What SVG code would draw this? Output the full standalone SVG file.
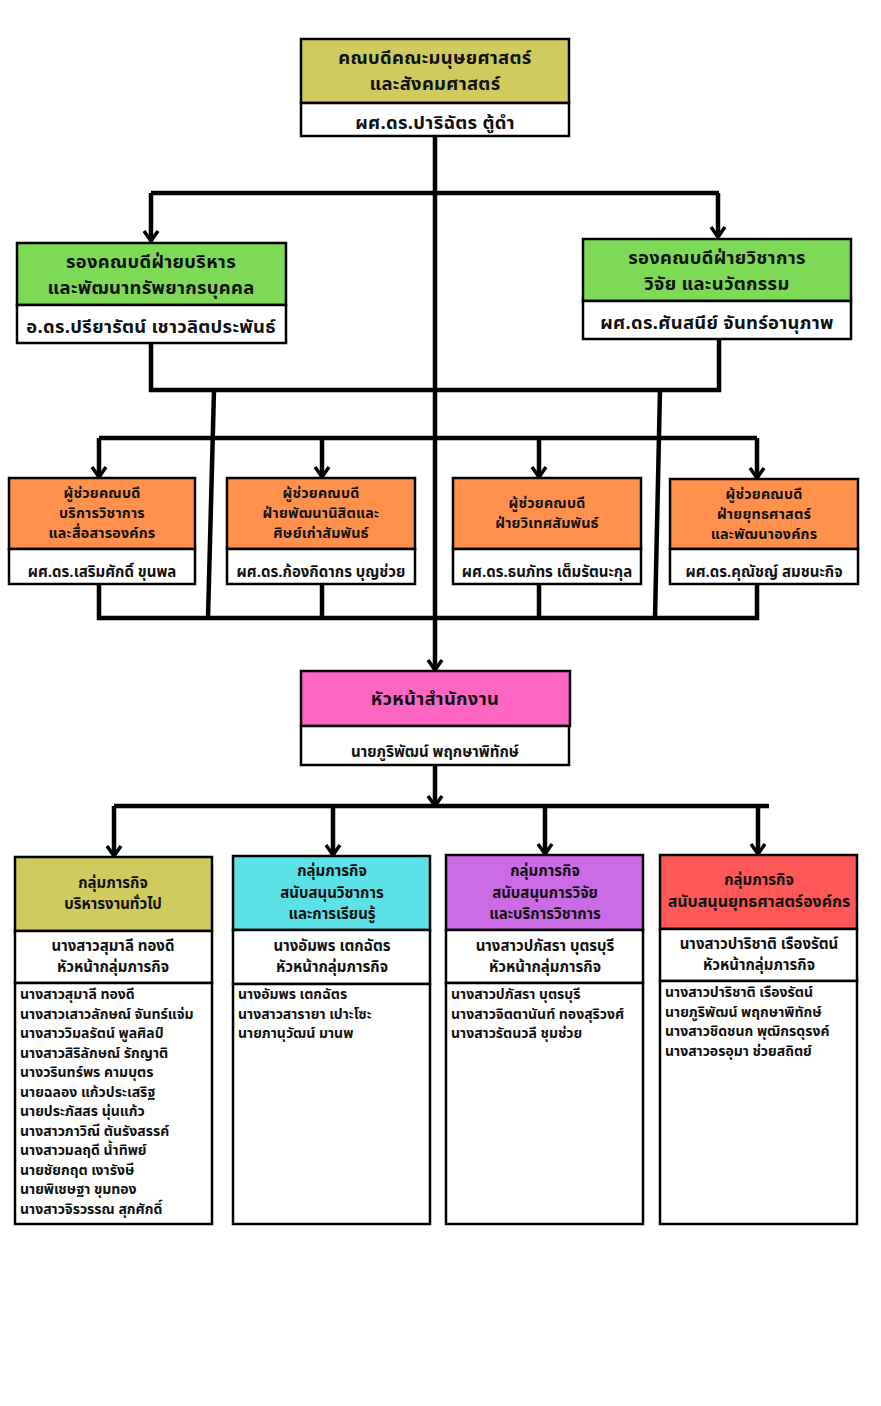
<svg xmlns="http://www.w3.org/2000/svg" width="881" height="1406" viewBox="0 0 881 1406">
<style>
.bx{stroke:#000;stroke-width:2.5}
.w{fill:#fff}
.olive{fill:#CFCB5E}
.green{fill:#7ED957}
.orange{fill:#FF914D}
.pink{fill:#FF66C4}
.cyan{fill:#5CE1E6}
.purple{fill:#CB6CE6}
.red{fill:#FF5757}
text{font-family:"Noto Sans Thai","Noto Sans",sans-serif;font-weight:700;fill:#111}
.t1{font-size:18.4px;text-anchor:middle;letter-spacing:0.3px}
.t2{font-size:15px;text-anchor:middle}
.ta{font-size:14.3px;text-anchor:middle;letter-spacing:0.2px}
.t3{font-size:14px}
.cn{fill:none;stroke:#000;stroke-width:4.5}
.ar{marker-end:url(#ah)}
</style>
<defs>
<marker id="ah" viewBox="-2 -9 14 18" refX="10" refY="0" markerWidth="14" markerHeight="18" markerUnits="userSpaceOnUse" orient="auto">
<path d="M0,-7 L10,0 L0,7" fill="none" stroke="#000" stroke-width="3.5"/>
</marker>
</defs>
<rect width="881" height="1406" fill="#fff"/>

<g id="connectors">
<path class="cn" d="M435,136 V618"/>
<path class="cn ar" d="M435,618 V670"/>
<path class="cn" d="M151,193 H719"/>
<path class="cn ar" d="M151,193 V241"/>
<path class="cn ar" d="M718,193 V237"/>
<path class="cn" d="M151,343 V390 H719 V339"/>
<path class="cn" d="M214,390 L208,618"/>
<path class="cn" d="M660,390 L655,618"/>
<path class="cn" d="M99,438 H757"/>
<path class="cn ar" d="M99,438 V477"/>
<path class="cn ar" d="M322,438 V477"/>
<path class="cn ar" d="M539,438 V477"/>
<path class="cn ar" d="M757,438 V478"/>
<path class="cn" d="M99,584 V618 H757 V585"/>
<path class="cn" d="M322,584 V618"/>
<path class="cn" d="M539,584 V618"/>
<path class="cn ar" d="M435,765 V806"/>
<path class="cn" d="M114,806 H769"/>
<path class="cn ar" d="M114,806 V856"/>
<path class="cn ar" d="M333,806 V855"/>
<path class="cn ar" d="M545,806 V854"/>
<path class="cn ar" d="M758,806 V854"/>
</g>

<g id="dean">
<rect class="bx olive" x="301" y="39" width="268" height="64"/>
<rect class="bx w" x="301" y="103" width="268" height="33"/>
<text class="t1" x="435" y="64">คณบดีคณะมนุษยศาสตร์</text>
<text class="t1" x="435" y="90">และสังคมศาสตร์</text>
<text class="t1" x="435" y="129">ผศ.ดร.ปาริฉัตร ตู้ดำ</text>
</g>

<g id="vp-admin">
<rect class="bx green" x="17" y="243" width="269" height="62"/>
<rect class="bx w" x="17" y="305" width="269" height="38"/>
<text class="t1" x="151" y="268">รองคณบดีฝ่ายบริหาร</text>
<text class="t1" x="151" y="294">และพัฒนาทรัพยากรบุคคล</text>
<text class="t1" x="151" y="333">อ.ดร.ปรียารัตน์ เชาวลิตประพันธ์</text>
</g>

<g id="vp-academic">
<rect class="bx green" x="583" y="239" width="268" height="62"/>
<rect class="bx w" x="583" y="301" width="268" height="38"/>
<text class="t1" x="717" y="264">รองคณบดีฝ่ายวิชาการ</text>
<text class="t1" x="717" y="290">วิจัย และนวัตกรรม</text>
<text class="t1" x="717" y="329">ผศ.ดร.ศันสนีย์ จันทร์อานุภาพ</text>
</g>

<g id="asst-1">
<rect class="bx orange" x="9" y="478" width="186" height="71"/>
<rect class="bx w" x="9" y="549" width="186" height="35"/>
<text class="ta" x="102" y="498">ผู้ช่วยคณบดี</text>
<text class="ta" x="102" y="518">บริการวิชาการ</text>
<text class="ta" x="102" y="538">และสื่อสารองค์กร</text>
<text class="t2" x="102" y="577">ผศ.ดร.เสริมศักดิ์ ขุนพล</text>
</g>

<g id="asst-2">
<rect class="bx orange" x="227" y="478" width="188" height="71"/>
<rect class="bx w" x="227" y="549" width="188" height="35"/>
<text class="ta" x="321" y="498">ผู้ช่วยคณบดี</text>
<text class="ta" x="321" y="518">ฝ่ายพัฒนานิสิตและ</text>
<text class="ta" x="321" y="538">ศิษย์เก่าสัมพันธ์</text>
<text class="t2" x="321" y="577">ผศ.ดร.ก้องกิดากร บุญช่วย</text>
</g>

<g id="asst-3">
<rect class="bx orange" x="453" y="478" width="188" height="71"/>
<rect class="bx w" x="453" y="549" width="188" height="35"/>
<text class="ta" x="547" y="508">ผู้ช่วยคณบดี</text>
<text class="ta" x="547" y="528">ฝ่ายวิเทศสัมพันธ์</text>
<text class="t2" x="547" y="577">ผศ.ดร.ธนภัทร เต็มรัตนะกุล</text>
</g>

<g id="asst-4">
<rect class="bx orange" x="670" y="479" width="188" height="70"/>
<rect class="bx w" x="670" y="549" width="188" height="35"/>
<text class="ta" x="764" y="499">ผู้ช่วยคณบดี</text>
<text class="ta" x="764" y="519">ฝ่ายยุทธศาสตร์</text>
<text class="ta" x="764" y="539">และพัฒนาองค์กร</text>
<text class="t2" x="764" y="577">ผศ.ดร.คุณัชญ์ สมชนะกิจ</text>
</g>

<g id="office-head">
<rect class="bx pink" x="301" y="671" width="269" height="55"/>
<rect class="bx w" x="301" y="726" width="268" height="39"/>
<text class="t1" x="435" y="705">หัวหน้าสำนักงาน</text>
<text class="t2" x="435" y="757">นายภูริพัฒน์ พฤกษาพิทักษ์</text>
</g>

<g id="group-1">
<rect class="bx olive" x="15" y="857" width="197" height="74"/>
<rect class="bx w" x="15" y="931" width="197" height="52"/>
<rect class="bx w" x="15" y="983" width="197" height="241"/>
<text class="t2" x="113" y="888">กลุ่มภารกิจ</text>
<text class="t2" x="113" y="909">บริหารงานทั่วไป</text>
<text class="t2" x="113" y="951">นางสาวสุมาลี ทองดี</text>
<text class="t2" x="113" y="972">หัวหน้ากลุ่มภารกิจ</text>
<text class="t3" x="20" y="999">นางสาวสุมาลี ทองดี</text>
<text class="t3" x="20" y="1018.5">นางสาวเสาวลักษณ์ จันทร์แจ่ม</text>
<text class="t3" x="20" y="1038">นางสาววิมลรัตน์ พูลศิลป์</text>
<text class="t3" x="20" y="1057.5">นางสาวสิริลักษณ์ รักญาติ</text>
<text class="t3" x="20" y="1077">นางวรินทร์พร คามบุตร</text>
<text class="t3" x="20" y="1096.5">นายฉลอง แก้วประเสริฐ</text>
<text class="t3" x="20" y="1116">นายประภัสสร นุ่นแก้ว</text>
<text class="t3" x="20" y="1135.5">นางสาวภาวิณี ตันรังสรรค์</text>
<text class="t3" x="20" y="1155">นางสาวมลฤดี น้ำทิพย์</text>
<text class="t3" x="20" y="1174.5">นายชัยกฤต เงารังษี</text>
<text class="t3" x="20" y="1194">นายพิเชษฐา ขุมทอง</text>
<text class="t3" x="20" y="1213.5">นางสาวจิรวรรณ สุกศักดิ์</text>
</g>

<g id="group-2">
<rect class="bx cyan" x="233" y="856" width="197" height="74"/>
<rect class="bx w" x="233" y="930" width="197" height="54"/>
<rect class="bx w" x="233" y="984" width="197" height="240"/>
<text class="t2" x="332" y="876">กลุ่มภารกิจ</text>
<text class="t2" x="332" y="898">สนับสนุนวิชาการ</text>
<text class="t2" x="332" y="919">และการเรียนรู้</text>
<text class="t2" x="332" y="951">นางอัมพร เตกฉัตร</text>
<text class="t2" x="332" y="972">หัวหน้ากลุ่มภารกิจ</text>
<text class="t3" x="238" y="999">นางอัมพร เตกฉัตร</text>
<text class="t3" x="238" y="1018.5">นางสาวสารายา เปาะโซะ</text>
<text class="t3" x="238" y="1038">นายภานุวัฒน์ มานพ</text>
</g>

<g id="group-3">
<rect class="bx purple" x="446" y="855" width="197" height="75"/>
<rect class="bx w" x="446" y="930" width="197" height="53"/>
<rect class="bx w" x="446" y="983" width="197" height="241"/>
<text class="t2" x="545" y="876">กลุ่มภารกิจ</text>
<text class="t2" x="545" y="898">สนับสนุนการวิจัย</text>
<text class="t2" x="545" y="919">และบริการวิชาการ</text>
<text class="t2" x="545" y="951">นางสาวปภัสรา บุตรบุรี</text>
<text class="t2" x="545" y="972">หัวหน้ากลุ่มภารกิจ</text>
<text class="t3" x="451" y="999">นางสาวปภัสรา บุตรบุรี</text>
<text class="t3" x="451" y="1018.5">นางสาวจิตตานันท์ ทองสุริวงศ์</text>
<text class="t3" x="451" y="1038">นางสาวรัตนวลี ชุมช่วย</text>
</g>

<g id="group-4">
<rect class="bx red" x="660" y="855" width="197" height="74"/>
<rect class="bx w" x="660" y="929" width="197" height="52"/>
<rect class="bx w" x="660" y="981" width="197" height="243"/>
<text class="t2" x="759" y="885">กลุ่มภารกิจ</text>
<text class="t2" x="759" y="907" style="font-size:16px">สนับสนุนยุทธศาสตร์องค์กร</text>
<text class="t2" x="759" y="949">นางสาวปาริชาติ เรืองรัตน์</text>
<text class="t2" x="759" y="970">หัวหน้ากลุ่มภารกิจ</text>
<text class="t3" x="665" y="997">นางสาวปาริชาติ เรืองรัตน์</text>
<text class="t3" x="665" y="1016.5">นายภูริพัฒน์ พฤกษาพิทักษ์</text>
<text class="t3" x="665" y="1036">นางสาวชิดชนก พุฒิกรดุรงค์</text>
<text class="t3" x="665" y="1055.5">นางสาวอรอุมา ช่วยสถิตย์</text>
</g>
</svg>
